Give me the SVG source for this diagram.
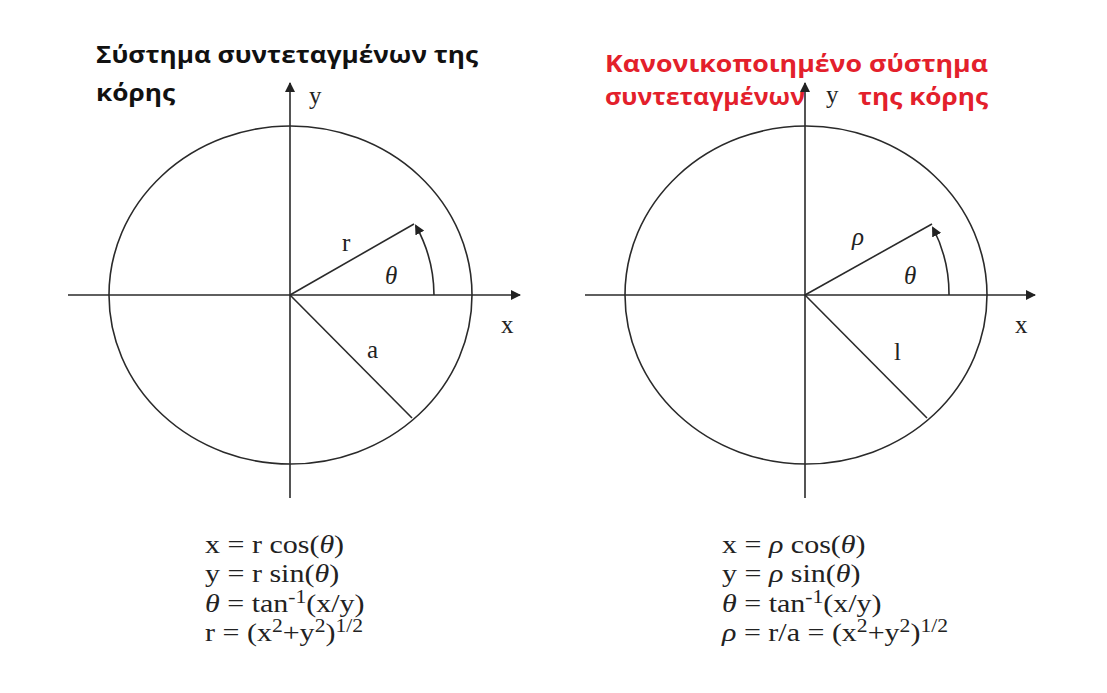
<svg xmlns="http://www.w3.org/2000/svg" width="1107" height="693" viewBox="0 0 1107 693">
<defs>
<marker id="ah" viewBox="0 0 10 10" refX="9" refY="5" markerWidth="10" markerHeight="10" markerUnits="userSpaceOnUse" orient="auto"><path d="M0,0 L10,5 L0,10 z" fill="#222"/></marker>
<marker id="ah2" viewBox="0 0 10 10" refX="8" refY="5" markerWidth="10" markerHeight="10" markerUnits="userSpaceOnUse" orient="auto"><path d="M0,0 L10,5 L0,10 z" fill="#222"/></marker>
</defs>
<style>
.ln{stroke:#2a2a2a;stroke-width:1.6;fill:none}
.ttl{font-family:"Open Sans","Noto Sans",sans-serif;font-weight:bold;font-size:24px}
.m{font-family:"Liberation Serif",serif;font-size:25px;fill:#222}
.i{font-style:italic}
.sup{font-size:18px}
</style>
<rect width="1107" height="693" fill="#fff"/>
<g id="title-left"><text class="ttl" x="96" y="63" fill="#111" textLength="382" lengthAdjust="spacingAndGlyphs">Σύστημα συντεταγμένων της</text><text class="ttl" x="96" y="101" fill="#111" textLength="79" lengthAdjust="spacingAndGlyphs">κόρης</text></g>
<g id="title-right"><text class="ttl" x="605" y="72" fill="#e3202b" textLength="383" lengthAdjust="spacingAndGlyphs">Κανονικοποιημένο σύστημα</text><text class="ttl" x="605" y="105" fill="#e3202b" textLength="200" lengthAdjust="spacingAndGlyphs">συντεταγμένων</text><text class="ttl" x="858" y="105" fill="#e3202b" textLength="130" lengthAdjust="spacingAndGlyphs">της κόρης</text></g>
<g id="diagram-left">
<ellipse class="ln" cx="290.5" cy="295" rx="181.5" ry="169"/>
<line class="ln" x1="290" y1="498" x2="290" y2="83" marker-end="url(#ah)"/>
<line class="ln" x1="68" y1="295" x2="520" y2="295" marker-end="url(#ah)"/>
<line class="ln" x1="290" y1="295" x2="414" y2="224"/>
<line class="ln" x1="290" y1="295" x2="412" y2="418"/>
<path class="ln" d="M434,295 A144,144 0 0 0 416,226" marker-end="url(#ah2)"/>
<text class="m" x="342" y="251">r</text>
<text class="m i" x="385" y="284">θ</text>
<text class="m" x="501" y="333">x</text>
<text class="m" x="367" y="358">a</text>
<text class="m" x="309" y="104">y</text>
</g>
<g id="diagram-right">
<ellipse class="ln" cx="806" cy="295" rx="181" ry="169"/>
<line class="ln" x1="805" y1="498" x2="805" y2="83" marker-end="url(#ah)"/>
<line class="ln" x1="585" y1="295" x2="1035" y2="295" marker-end="url(#ah)"/>
<line class="ln" x1="805" y1="295" x2="932" y2="224"/>
<line class="ln" x1="805" y1="295" x2="927" y2="418"/>
<path class="ln" d="M949,295 A144,144 0 0 0 933,228" marker-end="url(#ah2)"/>
<text class="m i" x="852" y="245">ρ</text>
<text class="m i" x="904" y="284">θ</text>
<text class="m" x="1015" y="333">x</text>
<text class="m" x="894" y="360">l</text>
<text class="m" x="826" y="103">y</text>
</g>
<g id="formulas-left" transform="translate(205,0) scale(1.2,1)">
<text class="m" x="0" y="553">x = r cos(<tspan class="i">θ</tspan>)</text>
<text class="m" x="0" y="582">y = r sin(<tspan class="i">θ</tspan>)</text>
<text class="m" x="0" y="612"><tspan class="i">θ</tspan> = tan<tspan class="sup" dy="-9">-1</tspan><tspan dy="9">(x/y)</tspan></text>
<text class="m" x="0" y="641">r = (x<tspan class="sup" dy="-9">2</tspan><tspan dy="9">+y</tspan><tspan class="sup" dy="-9">2</tspan><tspan dy="9">)</tspan><tspan class="sup" dy="-9">1/2</tspan></text>
</g>
<g id="formulas-right" transform="translate(722,0) scale(1.2,1)">
<text class="m" x="0" y="553">x = <tspan class="i">ρ</tspan> cos(<tspan class="i">θ</tspan>)</text>
<text class="m" x="0" y="582">y = <tspan class="i">ρ</tspan> sin(<tspan class="i">θ</tspan>)</text>
<text class="m" x="0" y="612"><tspan class="i">θ</tspan> = tan<tspan class="sup" dy="-9">-1</tspan><tspan dy="9">(x/y)</tspan></text>
<text class="m" x="0" y="641"><tspan class="i">ρ</tspan> = r/a = (x<tspan class="sup" dy="-9">2</tspan><tspan dy="9">+y</tspan><tspan class="sup" dy="-9">2</tspan><tspan dy="9">)</tspan><tspan class="sup" dy="-9">1/2</tspan></text>
</g>
</svg>
